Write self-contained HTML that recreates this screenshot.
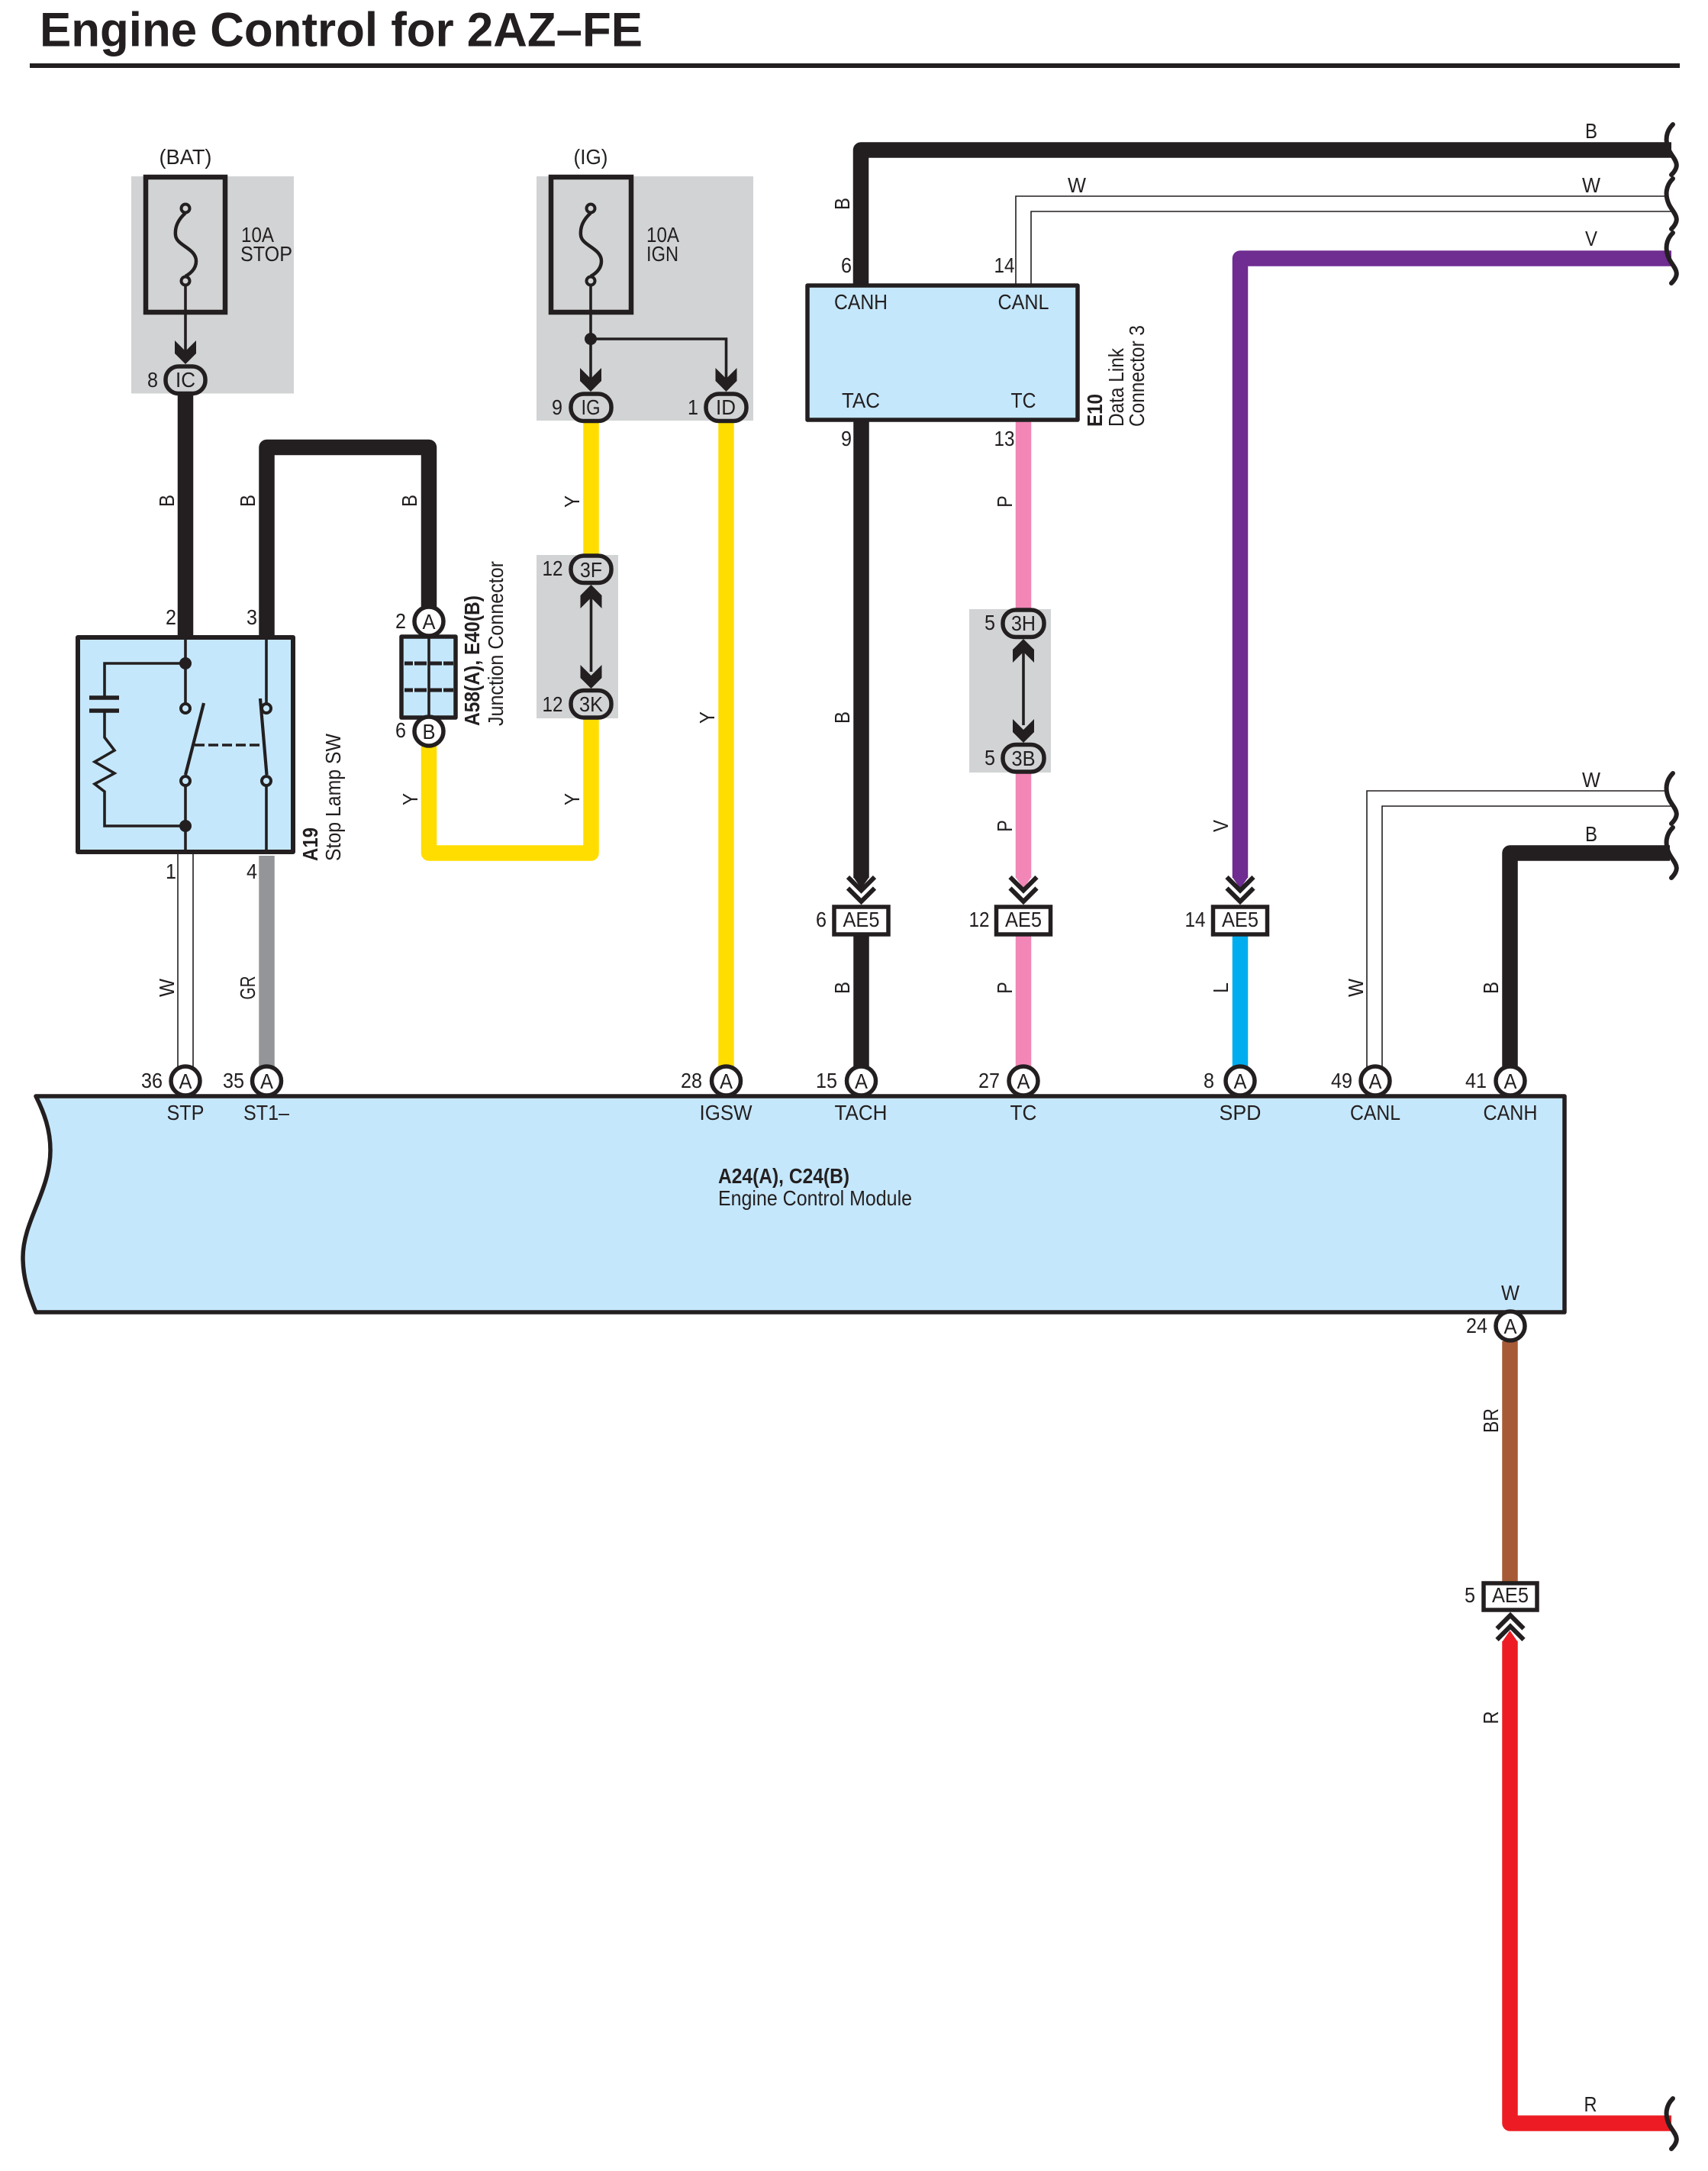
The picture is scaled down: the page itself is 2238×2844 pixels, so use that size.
<!DOCTYPE html>
<html>
<head>
<meta charset="utf-8">
<title>Engine Control for 2AZ–FE</title>
<style>
html,body{margin:0;padding:0;background:#fff}
svg{display:block}
text{font-family:"Liberation Sans",sans-serif;font-size:28px;fill:#231f20}
.m{text-anchor:middle}
.b{font-weight:bold}
.w{fill:none;stroke-width:20.5;stroke-linejoin:round}
.t{fill:none;stroke:#231f20;stroke-width:1.6}
.s{fill:none;stroke:#231f20;stroke-width:3.6}
.k{fill:none;stroke:#231f20;stroke-width:5.5}
.c{fill:#fff;stroke:#231f20;stroke-width:5.5}
.g{fill:#d1d3d4;stroke:#231f20;stroke-width:5.5}
.f{fill:#231f20}
.blue{fill:#c5e7fb;stroke:#231f20;stroke-width:5.5;stroke-linejoin:round}
</style>
</head>
<body>
<svg xmlns="http://www.w3.org/2000/svg" width="2238" height="2844" viewBox="0 0 2238 2844">
<defs>
<polygon id="dn" points="-14,-31 0,-17 14,-31 14,-14 0,0 -14,-14" fill="#231f20"/>
<path id="br" d="M2192,0 C2183,9 2181,21 2187,34 C2193,46 2204,52 2190,66" fill="none" stroke="#231f20" stroke-width="6" stroke-linecap="round"/>
<g id="ch" fill="none" stroke="#231f20" stroke-width="6"><path d="M-17.5,1 L0,18.5 L17.5,1"/><path d="M-17.5,15.5 L0,33 L17.5,15.5"/></g>
</defs>
<rect width="2238" height="2844" fill="#fff"/>

<!-- title -->
<text x="52" y="60.5" class="b" style="font-size:63px" textLength="790" lengthAdjust="spacingAndGlyphs">Engine Control for 2AZ–FE</text>
<rect x="39" y="83" width="2162" height="6" fill="#231f20"/>

<!-- gray boxes -->
<rect x="172" y="231" width="213" height="284.5" fill="#d1d3d4"/>
<rect x="703" y="231" width="284" height="320" fill="#d1d3d4"/>
<rect x="703" y="727" width="107" height="214" fill="#d1d3d4"/>
<rect x="1270" y="798" width="107" height="214" fill="#d1d3d4"/>

<!-- wires -->
<g class="wires">
<path class="w" stroke="#231f20" d="M243,515V835"/>
<path class="w" stroke="#231f20" d="M349.5,835V586H562V798"/>
<path class="w" stroke="#ffdd00" d="M562,976V1117.5H774.5V941"/>
<path class="w" stroke="#ffdd00" d="M774.5,551V727"/>
<path class="w" stroke="#ffdd00" d="M951.5,551V1400"/>
<path class="w" stroke="#231f20" d="M1128,374V196.5H2190"/>
<path class="t" d="M1331,374V257H2184"/>
<path class="t" d="M1351,374V277H2195"/>
<path class="w" stroke="#6f2c91" d="M1625,1150V338.5H2190"/>
<path class="w" stroke="#231f20" d="M1128.5,550V1150"/>
<polygon class="f" points="1118.2,1149 1138.8,1149 1128.5,1164"/>
<path class="w" stroke="#f287b7" d="M1341,550V800"/>
<path class="w" stroke="#f287b7" d="M1341,1012V1150"/>
<polygon fill="#f287b7" points="1330.7,1149 1351.3,1149 1341,1164"/>
<polygon fill="#6f2c91" points="1614.7,1149 1635.3,1149 1625,1164"/>
<path class="w" stroke="#231f20" d="M1128.5,1225V1400"/>
<path class="w" stroke="#f287b7" d="M1341,1225V1400"/>
<path class="w" stroke="#00aeef" d="M1625,1225V1400"/>
<path class="t" d="M233,1119V1400"/>
<path class="t" d="M253,1119V1400"/>
<path class="w" stroke="#939598" d="M349.5,1121V1400"/>
<path class="t" d="M1791,1400V1036H2184"/>
<path class="t" d="M1811,1400V1056H2195"/>
<path class="w" stroke="#231f20" d="M1978.5,1400V1117.5H2188"/>
<path class="w" stroke="#a65a35" d="M1978.5,1757V2072"/>
<path class="w" stroke="#ed1c24" d="M1978.5,2150V2781.5H2190"/>
<polygon fill="#ed1c24" points="1968.2,2151 1988.8,2151 1978.5,2136"/>
</g>

<!-- braces -->
<use href="#br" y="163"/><use href="#br" y="234"/><use href="#br" y="305"/>
<use href="#br" y="1013"/><use href="#br" y="1084"/><use href="#br" y="2749"/>

<!-- fuse STOP -->
<rect x="191" y="232" width="104" height="177" fill="none" stroke="#231f20" stroke-width="6.5"/>
<path d="M243,279C233,288 229,298 230,308C231,322 257,325 257,342C257,352 250,358 243,362" fill="none" stroke="#231f20" stroke-width="4.5"/>
<circle cx="243" cy="273" r="5.5" fill="#d1d3d4" stroke="#231f20" stroke-width="4"/>
<circle cx="243" cy="368" r="5.5" fill="#d1d3d4" stroke="#231f20" stroke-width="4"/>
<path class="s" d="M243,374V465"/>
<use href="#dn" x="243" y="477"/>
<rect x="217" y="480" width="52" height="35.5" rx="17" class="g"/>
<text x="243" y="507" class="m" textLength="26" lengthAdjust="spacingAndGlyphs">IC</text>
<text x="200" y="507" class="m" textLength="14" lengthAdjust="spacingAndGlyphs">8</text>
<text x="243" y="215" class="m" textLength="69" lengthAdjust="spacingAndGlyphs">(BAT)</text>
<text x="316" y="317" textLength="43" lengthAdjust="spacingAndGlyphs">10A</text>
<text x="315" y="342" textLength="68" lengthAdjust="spacingAndGlyphs">STOP</text>

<!-- fuse IGN -->
<rect x="722" y="232" width="105" height="177" fill="none" stroke="#231f20" stroke-width="6.5"/>
<path d="M774,279C764,288 760,298 761,308C762,322 788,325 788,342C788,352 781,358 774,362" fill="none" stroke="#231f20" stroke-width="4.5"/>
<circle cx="774" cy="273" r="5.5" fill="#d1d3d4" stroke="#231f20" stroke-width="4"/>
<circle cx="774" cy="368" r="5.5" fill="#d1d3d4" stroke="#231f20" stroke-width="4"/>
<path class="s" d="M774,374V500"/>
<path class="s" d="M774,444H951.5V500"/>
<circle cx="774" cy="444" r="8" class="f"/>
<use href="#dn" x="774" y="513"/>
<use href="#dn" x="951.5" y="513"/>
<rect x="748" y="516" width="53" height="35.5" rx="17" class="g"/>
<rect x="925" y="516" width="53" height="35.5" rx="17" class="g"/>
<text x="774" y="543" class="m" textLength="25" lengthAdjust="spacingAndGlyphs">IG</text>
<text x="951" y="543" class="m" textLength="26" lengthAdjust="spacingAndGlyphs">ID</text>
<text x="730" y="543" class="m" textLength="14" lengthAdjust="spacingAndGlyphs">9</text>
<text x="908" y="543" class="m" textLength="14" lengthAdjust="spacingAndGlyphs">1</text>
<text x="774" y="215" class="m" textLength="45" lengthAdjust="spacingAndGlyphs">(IG)</text>
<text x="847" y="317" textLength="43" lengthAdjust="spacingAndGlyphs">10A</text>
<text x="847" y="342" textLength="42" lengthAdjust="spacingAndGlyphs">IGN</text>

<!-- Stop lamp switch -->
<rect x="102" y="835" width="282" height="281" class="blue" style="stroke-width:6"/>
<path class="s" d="M243,835V921"/>
<path class="s" d="M243,1030V1116"/>
<path class="s" d="M349,835V921"/>
<path class="s" d="M349,1030V1116"/>
<path class="s" d="M243,869H137V914M137,931V966L150,983L124,998L150,1013L124,1027L137,1037V1082H243"/>
<path d="M117,914H156M117,931H156" fill="none" stroke="#231f20" stroke-width="5.5"/>
<circle cx="243" cy="869" r="8" class="f"/>
<circle cx="243" cy="1082" r="8" class="f"/>
<circle cx="243" cy="928" r="6" fill="#c5e7fb" stroke="#231f20" stroke-width="4"/>
<circle cx="243" cy="1023" r="6" fill="#c5e7fb" stroke="#231f20" stroke-width="4"/>
<circle cx="349" cy="928" r="6" fill="#c5e7fb" stroke="#231f20" stroke-width="4"/>
<circle cx="349" cy="1023" r="6" fill="#c5e7fb" stroke="#231f20" stroke-width="4"/>
<path d="M267,921L243,1015" fill="none" stroke="#231f20" stroke-width="4.2"/>
<path d="M341,915L349.5,1015" fill="none" stroke="#231f20" stroke-width="4.2"/>
<path d="M255,976H344" fill="none" stroke="#231f20" stroke-width="3.6" stroke-dasharray="13,5"/>
<text x="224" y="818" class="m" textLength="14" lengthAdjust="spacingAndGlyphs">2</text>
<text x="330" y="818" class="m" textLength="14" lengthAdjust="spacingAndGlyphs">3</text>
<text x="224" y="1151" class="m" textLength="14" lengthAdjust="spacingAndGlyphs">1</text>
<text x="330" y="1151" class="m" textLength="14" lengthAdjust="spacingAndGlyphs">4</text>
<text transform="translate(416,1128) rotate(-90)" class="b" textLength="44" lengthAdjust="spacingAndGlyphs">A19</text>
<text transform="translate(446,1128) rotate(-90)" textLength="167" lengthAdjust="spacingAndGlyphs">Stop Lamp SW</text>

<!-- Junction connector -->
<rect x="526" y="834" width="71" height="106" class="blue"/>
<path class="s" d="M562,834V940"/>
<path d="M530,869H594M530,904H594" fill="none" stroke="#231f20" stroke-width="5" stroke-dasharray="11,2,16,4,16,2,13,0"/>
<circle cx="562" cy="814" r="19" class="c"/>
<circle cx="562" cy="958" r="19" class="c"/>
<text x="562" y="824" class="m" textLength="17" lengthAdjust="spacingAndGlyphs">A</text>
<text x="562" y="968" class="m" textLength="17" lengthAdjust="spacingAndGlyphs">B</text>
<text x="525" y="823" class="m" textLength="14" lengthAdjust="spacingAndGlyphs">2</text>
<text x="525" y="966" class="m" textLength="14" lengthAdjust="spacingAndGlyphs">6</text>
<text transform="translate(628,951) rotate(-90)" class="b" textLength="171" lengthAdjust="spacingAndGlyphs">A58(A), E40(B)</text>
<text transform="translate(659,951) rotate(-90)" textLength="216" lengthAdjust="spacingAndGlyphs">Junction Connector</text>

<!-- 3F / 3K -->
<path class="s" d="M774.5,775V880"/>
<use href="#dn" transform="translate(774.5,766) scale(1,-1)"/>
<use href="#dn" x="774.5" y="902"/>
<rect x="748" y="728" width="53" height="35.5" rx="17" class="g"/>
<rect x="748" y="904.5" width="53" height="35.5" rx="17" class="g"/>
<text x="774.5" y="756" class="m" textLength="29" lengthAdjust="spacingAndGlyphs">3F</text>
<text x="774.5" y="932" class="m" textLength="31" lengthAdjust="spacingAndGlyphs">3K</text>
<text x="724" y="754" class="m" textLength="27" lengthAdjust="spacingAndGlyphs">12</text>
<text x="724" y="932" class="m" textLength="27" lengthAdjust="spacingAndGlyphs">12</text>

<!-- 3H / 3B -->
<path class="s" d="M1341,846V950"/>
<use href="#dn" transform="translate(1341,837) scale(1,-1)"/>
<use href="#dn" x="1341" y="973"/>
<rect x="1314" y="799" width="54" height="35.5" rx="17" class="g"/>
<rect x="1314" y="975.5" width="54" height="35.5" rx="17" class="g"/>
<text x="1341" y="826" class="m" textLength="32" lengthAdjust="spacingAndGlyphs">3H</text>
<text x="1341" y="1003" class="m" textLength="31" lengthAdjust="spacingAndGlyphs">3B</text>
<text x="1297" y="825" class="m" textLength="14" lengthAdjust="spacingAndGlyphs">5</text>
<text x="1297" y="1002" class="m" textLength="14" lengthAdjust="spacingAndGlyphs">5</text>

<!-- DLC -->
<rect x="1058" y="374" width="354" height="176" class="blue"/>
<text x="1128" y="405" class="m" textLength="70" lengthAdjust="spacingAndGlyphs">CANH</text>
<text x="1341" y="405" class="m" textLength="67" lengthAdjust="spacingAndGlyphs">CANL</text>
<text x="1128" y="534" class="m" textLength="50" lengthAdjust="spacingAndGlyphs">TAC</text>
<text x="1341" y="534" class="m" textLength="33" lengthAdjust="spacingAndGlyphs">TC</text>
<text x="1109" y="357" class="m" textLength="14" lengthAdjust="spacingAndGlyphs">6</text>
<text x="1316" y="357" class="m" textLength="27" lengthAdjust="spacingAndGlyphs">14</text>
<text x="1109" y="584" class="m" textLength="14" lengthAdjust="spacingAndGlyphs">9</text>
<text x="1316" y="584" class="m" textLength="27" lengthAdjust="spacingAndGlyphs">13</text>
<text transform="translate(1444,559) rotate(-90)" class="b" textLength="43" lengthAdjust="spacingAndGlyphs">E10</text>
<text transform="translate(1472,559) rotate(-90)" textLength="103" lengthAdjust="spacingAndGlyphs">Data Link</text>
<text transform="translate(1499,559) rotate(-90)" textLength="133" lengthAdjust="spacingAndGlyphs">Connector 3</text>

<!-- AE5 connectors -->
<use href="#ch" x="1128.5" y="1148"/>
<use href="#ch" x="1341" y="1148"/>
<use href="#ch" x="1625" y="1148"/>
<rect x="1093" y="1188" width="71" height="36" class="c"/>
<rect x="1305.5" y="1188" width="71" height="36" class="c"/>
<rect x="1589.5" y="1188" width="71" height="36" class="c"/>
<text x="1128.5" y="1214" class="m" textLength="48" lengthAdjust="spacingAndGlyphs">AE5</text>
<text x="1341" y="1214" class="m" textLength="48" lengthAdjust="spacingAndGlyphs">AE5</text>
<text x="1625" y="1214" class="m" textLength="48" lengthAdjust="spacingAndGlyphs">AE5</text>
<text x="1076" y="1214" class="m" textLength="14" lengthAdjust="spacingAndGlyphs">6</text>
<text x="1283" y="1214" class="m" textLength="27" lengthAdjust="spacingAndGlyphs">12</text>
<text x="1566" y="1214" class="m" textLength="27" lengthAdjust="spacingAndGlyphs">14</text>

<use href="#ch" transform="translate(1979,2149) scale(1,-1)"/>
<rect x="1944" y="2074" width="70" height="35" class="c"/>
<text x="1979" y="2099" class="m" textLength="48" lengthAdjust="spacingAndGlyphs">AE5</text>
<text x="1926" y="2099" class="m" textLength="14" lengthAdjust="spacingAndGlyphs">5</text>

<!-- ECM -->
<path class="blue" d="M47,1436H2050V1719H47C36,1692 30,1672 30,1647C30,1600 66,1560 66,1507C66,1480 58,1458 47,1436Z"/>
<circle cx="243" cy="1416" r="19" class="c"/>
<circle cx="349.5" cy="1416" r="19" class="c"/>
<circle cx="951.5" cy="1416" r="19" class="c"/>
<circle cx="1128.5" cy="1416" r="19" class="c"/>
<circle cx="1341" cy="1416" r="19" class="c"/>
<circle cx="1625" cy="1416" r="19" class="c"/>
<circle cx="1802" cy="1416" r="19" class="c"/>
<circle cx="1979" cy="1416" r="19" class="c"/>
<circle cx="1979" cy="1737" r="19" class="c"/>
<g>
<text x="243" y="1426" class="m" textLength="17" lengthAdjust="spacingAndGlyphs">A</text>
<text x="349.5" y="1426" class="m" textLength="17" lengthAdjust="spacingAndGlyphs">A</text>
<text x="951.5" y="1426" class="m" textLength="17" lengthAdjust="spacingAndGlyphs">A</text>
<text x="1128.5" y="1426" class="m" textLength="17" lengthAdjust="spacingAndGlyphs">A</text>
<text x="1341" y="1426" class="m" textLength="17" lengthAdjust="spacingAndGlyphs">A</text>
<text x="1625" y="1426" class="m" textLength="17" lengthAdjust="spacingAndGlyphs">A</text>
<text x="1802" y="1426" class="m" textLength="17" lengthAdjust="spacingAndGlyphs">A</text>
<text x="1979" y="1426" class="m" textLength="17" lengthAdjust="spacingAndGlyphs">A</text>
<text x="1979" y="1747" class="m" textLength="17" lengthAdjust="spacingAndGlyphs">A</text>
</g>
<g>
<text x="199" y="1425" class="m" textLength="28" lengthAdjust="spacingAndGlyphs">36</text>
<text x="306" y="1425" class="m" textLength="28" lengthAdjust="spacingAndGlyphs">35</text>
<text x="906" y="1425" class="m" textLength="28" lengthAdjust="spacingAndGlyphs">28</text>
<text x="1083" y="1425" class="m" textLength="28" lengthAdjust="spacingAndGlyphs">15</text>
<text x="1296" y="1425" class="m" textLength="28" lengthAdjust="spacingAndGlyphs">27</text>
<text x="1584" y="1425" class="m" textLength="14" lengthAdjust="spacingAndGlyphs">8</text>
<text x="1758" y="1425" class="m" textLength="28" lengthAdjust="spacingAndGlyphs">49</text>
<text x="1934" y="1425" class="m" textLength="28" lengthAdjust="spacingAndGlyphs">41</text>
<text x="1935" y="1746" class="m" textLength="28" lengthAdjust="spacingAndGlyphs">24</text>
</g>
<g>
<text x="243" y="1467" class="m" textLength="49" lengthAdjust="spacingAndGlyphs">STP</text>
<text x="349" y="1467" class="m" textLength="60" lengthAdjust="spacingAndGlyphs">ST1–</text>
<text x="951" y="1467" class="m" textLength="69" lengthAdjust="spacingAndGlyphs">IGSW</text>
<text x="1128" y="1467" class="m" textLength="69" lengthAdjust="spacingAndGlyphs">TACH</text>
<text x="1341" y="1467" class="m" textLength="35" lengthAdjust="spacingAndGlyphs">TC</text>
<text x="1625" y="1467" class="m" textLength="55" lengthAdjust="spacingAndGlyphs">SPD</text>
<text x="1802" y="1467" class="m" textLength="66" lengthAdjust="spacingAndGlyphs">CANL</text>
<text x="1979" y="1467" class="m" textLength="71" lengthAdjust="spacingAndGlyphs">CANH</text>
<text x="1979" y="1703" class="m" textLength="24" lengthAdjust="spacingAndGlyphs">W</text>
</g>
<text x="941" y="1550" class="b" textLength="172" lengthAdjust="spacingAndGlyphs">A24(A), C24(B)</text>
<text x="941" y="1579" textLength="254" lengthAdjust="spacingAndGlyphs">Engine Control Module</text>

<!-- horizontal wire labels -->
<g>
<text x="2085" y="181" class="m" textLength="16" lengthAdjust="spacingAndGlyphs">B</text>
<text x="2085" y="252" class="m" textLength="24" lengthAdjust="spacingAndGlyphs">W</text>
<text x="1411" y="252" class="m" textLength="24" lengthAdjust="spacingAndGlyphs">W</text>
<text x="2085" y="322" class="m" textLength="16" lengthAdjust="spacingAndGlyphs">V</text>
<text x="2085" y="1031" class="m" textLength="24" lengthAdjust="spacingAndGlyphs">W</text>
<text x="2085" y="1102" class="m" textLength="16" lengthAdjust="spacingAndGlyphs">B</text>
<text x="2084" y="2766" class="m" textLength="17" lengthAdjust="spacingAndGlyphs">R</text>
</g>

<!-- vertical wire labels -->
<g>
<text class="m" transform="translate(228,656) rotate(-90)" textLength="16" lengthAdjust="spacingAndGlyphs">B</text>
<text class="m" transform="translate(334,656) rotate(-90)" textLength="16" lengthAdjust="spacingAndGlyphs">B</text>
<text class="m" transform="translate(546,656) rotate(-90)" textLength="16" lengthAdjust="spacingAndGlyphs">B</text>
<text class="m" transform="translate(759,657) rotate(-90)" textLength="16" lengthAdjust="spacingAndGlyphs">Y</text>
<text class="m" transform="translate(1326,657) rotate(-90)" textLength="15.5" lengthAdjust="spacingAndGlyphs">P</text>
<text class="m" transform="translate(1113,267) rotate(-90)" textLength="16" lengthAdjust="spacingAndGlyphs">B</text>
<text class="m" transform="translate(1113,940) rotate(-90)" textLength="16" lengthAdjust="spacingAndGlyphs">B</text>
<text class="m" transform="translate(936,940) rotate(-90)" textLength="16" lengthAdjust="spacingAndGlyphs">Y</text>
<text class="m" transform="translate(547,1047) rotate(-90)" textLength="16" lengthAdjust="spacingAndGlyphs">Y</text>
<text class="m" transform="translate(759,1047) rotate(-90)" textLength="16" lengthAdjust="spacingAndGlyphs">Y</text>
<text class="m" transform="translate(1326,1082) rotate(-90)" textLength="15.5" lengthAdjust="spacingAndGlyphs">P</text>
<text class="m" transform="translate(1609,1082) rotate(-90)" textLength="16" lengthAdjust="spacingAndGlyphs">V</text>
<text class="m" transform="translate(228,1294) rotate(-90)" textLength="24" lengthAdjust="spacingAndGlyphs">W</text>
<text class="m" transform="translate(334,1294) rotate(-90)" textLength="31" lengthAdjust="spacingAndGlyphs">GR</text>
<text class="m" transform="translate(1113,1294) rotate(-90)" textLength="16" lengthAdjust="spacingAndGlyphs">B</text>
<text class="m" transform="translate(1326,1294) rotate(-90)" textLength="15.5" lengthAdjust="spacingAndGlyphs">P</text>
<text class="m" transform="translate(1609,1294) rotate(-90)" textLength="14" lengthAdjust="spacingAndGlyphs">L</text>
<text class="m" transform="translate(1786,1294) rotate(-90)" textLength="24" lengthAdjust="spacingAndGlyphs">W</text>
<text class="m" transform="translate(1963,1294) rotate(-90)" textLength="16" lengthAdjust="spacingAndGlyphs">B</text>
<text class="m" transform="translate(1963,1861) rotate(-90)" textLength="32" lengthAdjust="spacingAndGlyphs">BR</text>
<text class="m" transform="translate(1963,2250) rotate(-90)" textLength="17" lengthAdjust="spacingAndGlyphs">R</text>
</g>
</svg>
</body>
</html>
